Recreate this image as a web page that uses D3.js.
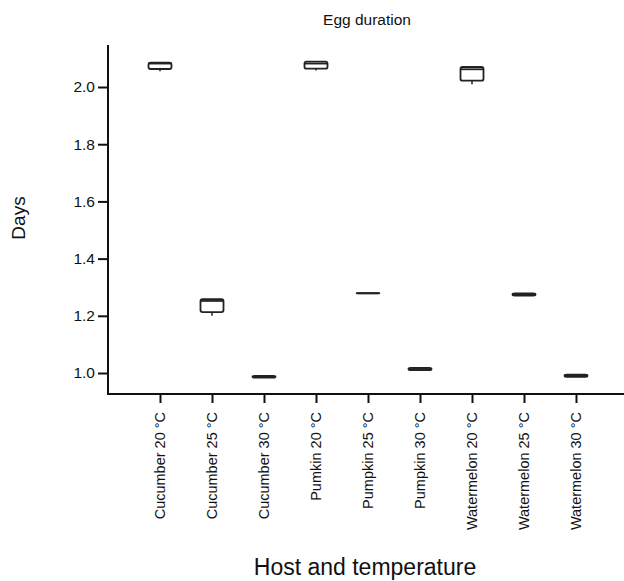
<!DOCTYPE html>
<html>
<head>
<meta charset="utf-8">
<script src="https://cdn.jsdelivr.net/npm/d3@7/dist/d3.min.js"></script>
<style>
  body { margin: 0; background: #fff; }
  svg { display: block; font-family: "Liberation Sans", Arial, sans-serif; }
</style>
</head>
<body>
<svg id="chart" width="624" height="581"></svg>
<script>
const categories = ["Cucumber 20 °C","Cucumber 25 °C","Cucumber 30 °C","Pumkin 20 °C","Pumpkin 25 °C","Pumpkin 30 °C","Watermelon 20 °C","Watermelon 25 °C","Watermelon 30 °C"];
const minVals = [2.055, 1.200, 0.984, 2.058, 1.279, 1.010, 2.010, 1.271, 0.987];
const q1Vals  = [2.063, 1.213, 0.984, 2.064, 1.279, 1.010, 2.022, 1.271, 0.987];
const medVals = [2.082, 1.252, 0.987, 2.082, 1.279, 1.014, 2.062, 1.275, 0.991];
const q3Vals  = [2.085, 1.258, 0.990, 2.089, 1.279, 1.018, 2.070, 1.278, 0.994];
const maxVals = [2.085, 1.258, 0.990, 2.089, 1.279, 1.018, 2.070, 1.278, 0.994];
const yTicks = [1.0, 1.2, 1.4, 1.6, 1.8, 2.0];

const svg = d3.select("#chart");
const x = d3.scalePoint().domain(categories).range([108, 628]).padding(1);
const y = d3.scaleLinear().domain([0.9266, 2.1469]).range([394, 45]);

const data = categories.map((c, i) => ({c, min: minVals[i], q1: q1Vals[i], med: medVals[i], q3: q3Vals[i], max: maxVals[i]}));

// Axes
const yAxis = svg.append("g").attr("transform", "translate(108,0)")
  .call(d3.axisLeft(y).tickValues(yTicks).tickFormat(d3.format(".1f")).tickSize(10).tickSizeOuter(0));
const xAxis = svg.append("g").attr("transform", "translate(0,394)")
  .call(d3.axisBottom(x).tickSize(9).tickSizeOuter(0).tickFormat(""));
[yAxis, xAxis].forEach(g => {
  g.select(".domain").attr("stroke", "#111").attr("stroke-width", 2);
  g.selectAll(".tick line").attr("stroke", "#111").attr("stroke-width", 2);
});
yAxis.select(".domain").attr("d", "M0,45V395");
xAxis.select(".domain").attr("d", "M107,0H624");
yAxis.selectAll(".tick text").attr("x", -13).attr("font-size", 15.5).attr("fill", "#111");

// Rotated x labels
svg.append("g").selectAll("text").data(categories).join("text")
  .attr("transform", d => `translate(${x(d)},412) rotate(-90)`)
  .attr("text-anchor", "end").attr("dy", "0.35em")
  .attr("font-size", 14.5).attr("fill", "#111")
  .text(d => d);

// Boxes
const bw = 23;
const g = svg.append("g");
const items = g.selectAll("g.box").data(data).join("g").attr("class", "box");
items.append("line")
  .attr("x1", d => x(d.c)).attr("x2", d => x(d.c))
  .attr("y1", d => y(d.min)).attr("y2", d => y(d.q1))
  .attr("stroke", "#222").attr("stroke-width", 1.5);
items.append("line")
  .attr("x1", d => x(d.c)).attr("x2", d => x(d.c))
  .attr("y1", d => y(d.max)).attr("y2", d => y(d.q3))
  .attr("stroke", "#222").attr("stroke-width", 1.5);
items.append("rect")
  .attr("x", d => x(d.c) - bw / 2).attr("width", bw)
  .attr("y", d => y(d.q3)).attr("height", d => Math.max(0.01, y(d.q1) - y(d.q3)))
  .attr("rx", 2).attr("fill", "#fff").attr("stroke", "#222").attr("stroke-width", 1.8);
items.append("line")
  .attr("x1", d => x(d.c) - bw / 2).attr("x2", d => x(d.c) + bw / 2)
  .attr("y1", d => y(d.med)).attr("y2", d => y(d.med))
  .attr("stroke", "#222").attr("stroke-width", 1.8);

// Titles
svg.append("text").attr("x", 367).attr("y", 25).attr("text-anchor", "middle")
  .attr("font-size", 15.5).attr("fill", "#111").text("Egg duration");
svg.append("text").attr("transform", "translate(25,218) rotate(-90)").attr("text-anchor", "middle")
  .attr("font-size", 19).attr("fill", "#111").text("Days");
svg.append("text").attr("x", 365).attr("y", 575).attr("text-anchor", "middle")
  .attr("font-size", 23).attr("fill", "#111").text("Host and temperature");
</script>
</body>
</html>
